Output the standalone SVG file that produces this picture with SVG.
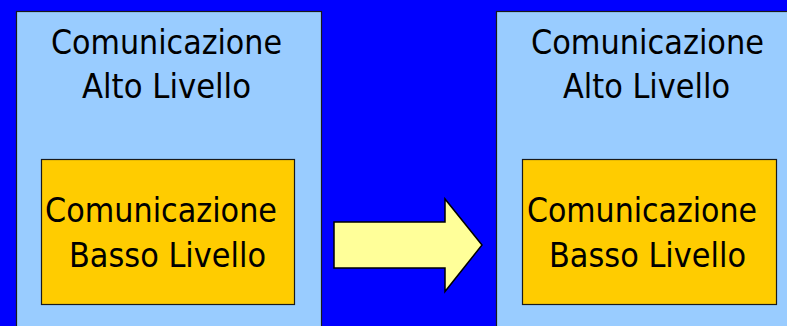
<svg xmlns="http://www.w3.org/2000/svg" width="787" height="326" viewBox="0 0 787 326">
<style>
.outer{fill:#99CCFF;stroke:#1a1a1a;stroke-width:1.2}
.inner{fill:#FFCC00;stroke:#1a1a1a;stroke-width:1.2}
.arrow{fill:#FFFF99;stroke:#000;stroke-width:1.5}
text{font-family:"DejaVu Sans Condensed","DejaVu Sans",sans-serif;font-size:34px;fill:#000}
</style>
<rect x="0" y="0" width="787" height="326" fill="#0000FF"/>
<g id="left-high">
<rect class="outer" x="16.5" y="11.5" width="305" height="330"/>
<text x="51" y="54" textLength="231" lengthAdjust="spacingAndGlyphs">Comunicazione</text>
<text x="82" y="98" textLength="169" lengthAdjust="spacingAndGlyphs">Alto Livello</text>
</g>
<g id="left-low">
<rect class="inner" x="41.5" y="159.5" width="253" height="145"/>
<text x="45" y="222" textLength="232" lengthAdjust="spacingAndGlyphs">Comunicazione</text>
<text x="69" y="267" textLength="197" lengthAdjust="spacingAndGlyphs">Basso Livello</text>
</g>
<g id="right-high">
<rect class="outer" x="496.5" y="11.5" width="300" height="330"/>
<text x="531" y="54" textLength="233" lengthAdjust="spacingAndGlyphs">Comunicazione</text>
<text x="563" y="98" textLength="167" lengthAdjust="spacingAndGlyphs">Alto Livello</text>
</g>
<g id="right-low">
<rect class="inner" x="522.5" y="159.5" width="254" height="145"/>
<text x="527" y="222" textLength="230" lengthAdjust="spacingAndGlyphs">Comunicazione</text>
<text x="549" y="267" textLength="197" lengthAdjust="spacingAndGlyphs">Basso Livello</text>
</g>
<g id="connectors">
<path class="arrow" d="M334,222 L445,222 L445,199 L482,245 L445,291.5 L445,268 L334,268 Z"/>
</g>
</svg>
